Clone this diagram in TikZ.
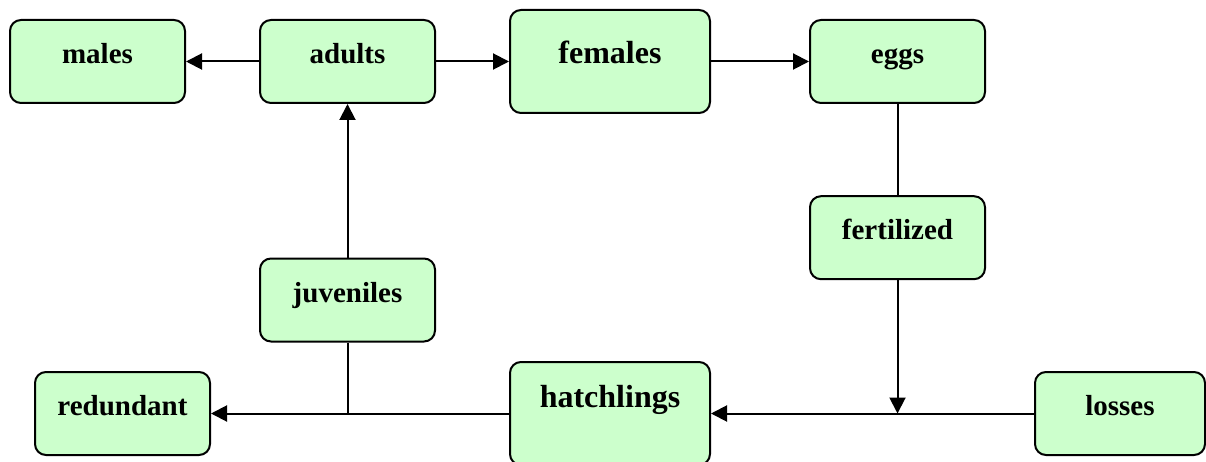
\documentclass[tikz,border=0pt]{standalone}
\usepackage{fontspec}
\setmainfont{Liberation Serif}
\usetikzlibrary{arrows.meta}
\definecolor{boxfill}{HTML}{CCFFCC}
\tikzset{
  box/.style={draw=black, line width=2pt, fill=boxfill, rounded corners=11pt,
    minimum width=175pt, minimum height=83pt, inner sep=0pt,
    font=\fontsize{29}{30}\selectfont\bfseries, text height=12pt, text depth=8pt},
  bigbox/.style={box, minimum width=200pt, minimum height=103pt,
    font=\fontsize{32}{33}\selectfont\bfseries},
  conn/.style={line width=2pt},
  arr/.style={conn, -{Triangle[length=16pt,width=16pt]}}
}
\begin{document}
\begin{tikzpicture}[x=1pt,y=-1pt]
\useasboundingbox (0,0) rectangle (1206,462);
\node[box] (males) at (97.5,61.5) {males};
\node[box] (adults) at (347.5,61.5) {adults};
\node[bigbox] (females) at (610,61.5) {females};
\node[box] (eggs) at (897.5,61.5) {eggs};
\node[box] (fertilized) at (897.5,237.7) {fertilized};
\node[box] (juveniles) at (347.5,300) {juveniles};
\node[box] (redundant) at (122.5,413.5) {redundant};
\node[bigbox, text height=5pt, text depth=18pt] (hatchlings) at (610,413.5) {hatchlings};
\node[box, minimum width=170pt] (losses) at (1120,413.5) {losses};
\coordinate (merge) at (897.5,413.5);
\draw[arr] (adults.west) -- (males.east);
\draw[arr] (adults.east) -- (females.west);
\draw[arr] (females.east) -- (eggs.west);
\draw[conn] (eggs.south) -- (fertilized.north);
\draw[arr] (fertilized.south) -- (merge);
\draw[arr] (losses.west) -- (hatchlings.east);
\draw[arr] (hatchlings.west) -- (redundant.east);
\draw[conn] (juveniles.south) -- (juveniles.south |- hatchlings.west);
\draw[arr] (juveniles.north) -- (adults.south);
\end{tikzpicture}
\end{document}
